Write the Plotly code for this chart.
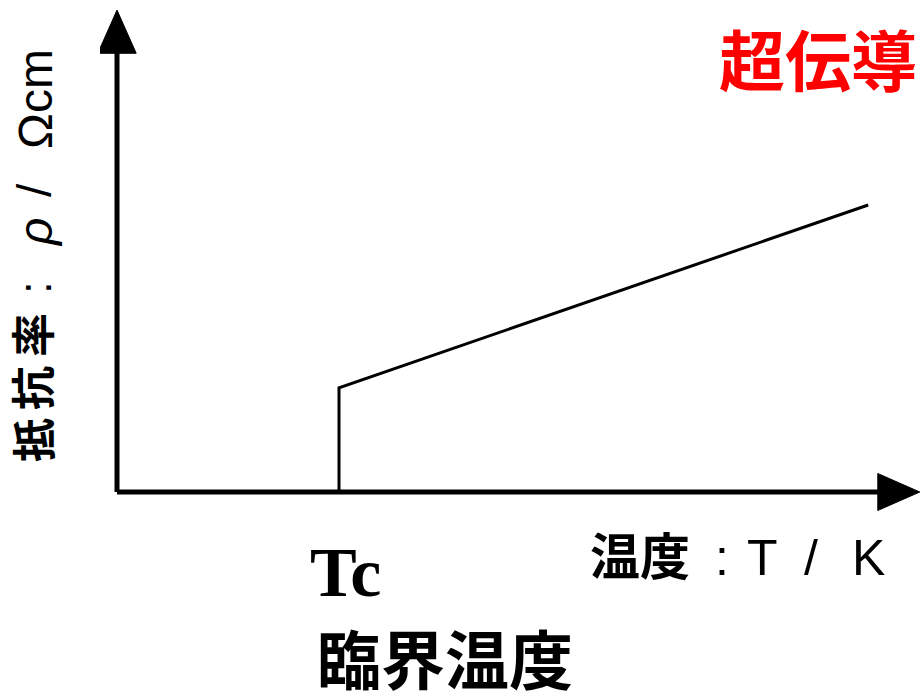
import plotly.graph_objects as go

# --- data (schematic, arbitrary units) ---
temperature = [27.75, 27.75, 93.9]     # T: Tc, Tc, high T
resistivity = [0.0, 21.7, 59.8]        # rho: 0 below Tc, jump, linear rise

title_text = "超伝導"
y_label_parts = ["<b>抵</b>", "<b>抗</b>", "<b>率</b>", ":", "<i>ρ</i>", "/", "Ωcm"]
x_label_parts = ["<b>温度</b>", ":", "T", "/", "K"]
tc_label = "<b>Tc</b>"
tc_name = "臨界温度"

W, H = 920, 700
ML, MR, MT, MB = 100, 0, 5, 180
X_RANGE = [-2.125, 100.375]
Y_RANGE = [-5.833, 101.458]

def px(xp):
    return (xp - ML) / (W - ML - MR)

def py(yp):
    return (H - MB - yp) / (H - MT - MB)

fig = go.Figure()
fig.add_trace(go.Scatter(x=temperature, y=resistivity, mode="lines",
                         line=dict(color="black", width=3), hoverinfo="skip",
                         showlegend=False))

axis_col = "black"
shapes = [
    dict(type="line", xref="x", yref="y", x0=0, y0=0, x1=0, y1=92, line=dict(color=axis_col, width=5)),
    dict(type="path", xref="x", yref="y", path="M -2.4,91.4 L 0,100.4 L 2.4,91.4 Z",
         fillcolor=axis_col, line=dict(color=axis_col, width=1)),
    dict(type="line", xref="x", yref="y", x0=0, y0=0, x1=96, y1=0, line=dict(color=axis_col, width=5)),
    dict(type="path", xref="x", yref="y", path="M 95.1,-3.85 L 100.35,0 L 95.1,3.85 Z",
         fillcolor=axis_col, line=dict(color=axis_col, width=1)),
]

cjk = "Noto Sans CJK JP"
latin = "Liberation Sans, Noto Sans CJK JP"

annotations = [
    dict(text=f"<b>{title_text}</b>", x=px(818), y=py(57), xref="paper", yref="paper",
         showarrow=False, font=dict(family=cjk, size=66, color="#ff0000"),
         xanchor="center", yanchor="middle"),
    dict(text=tc_label, x=px(345), y=py(572), xref="paper", yref="paper",
         showarrow=False, font=dict(family="Liberation Serif", size=70, color="black"),
         xanchor="center", yanchor="middle"),
    dict(text=f"<b>{tc_name}</b>", x=px(445), y=py(656), xref="paper", yref="paper",
         showarrow=False, font=dict(family=cjk, size=64, color="black"),
         xanchor="center", yanchor="middle"),
]

# y-axis label pieces (rotated), laid out along the axis like the original
y_centres = [440, 388, 335, 288, 232, 190, 99]
y_sizes = [44, 44, 44, 46, 48, 48, 48]
for part, yc, sz in zip(y_label_parts, y_centres, y_sizes):
    annotations.append(dict(text=part, x=px(35), y=py(yc), xref="paper", yref="paper",
                            textangle=-90, showarrow=False,
                            font=dict(family=latin, size=sz, color="black"),
                            xanchor="center", yanchor="middle"))

# x-axis label pieces
x_centres = [640, 722, 762, 811, 868]
x_sizes = [50, 50, 50, 50, 50]
for part, xc, sz in zip(x_label_parts, x_centres, x_sizes):
    annotations.append(dict(text=part, x=px(xc), y=py(558), xref="paper", yref="paper",
                            showarrow=False,
                            font=dict(family=latin, size=sz, color="black"),
                            xanchor="center", yanchor="middle"))

fig.update_layout(
    width=W, height=H,
    margin=dict(l=ML, r=MR, t=MT, b=MB),
    paper_bgcolor="white", plot_bgcolor="white",
    xaxis=dict(range=X_RANGE, visible=False, fixedrange=True),
    yaxis=dict(range=Y_RANGE, visible=False, fixedrange=True),
    shapes=shapes, annotations=annotations, showlegend=False,
)

fig.write_html("out.html", config={"displayModeBar": False},
               post_script="document.body.style.margin='0px';document.body.style.overflow='hidden';")
